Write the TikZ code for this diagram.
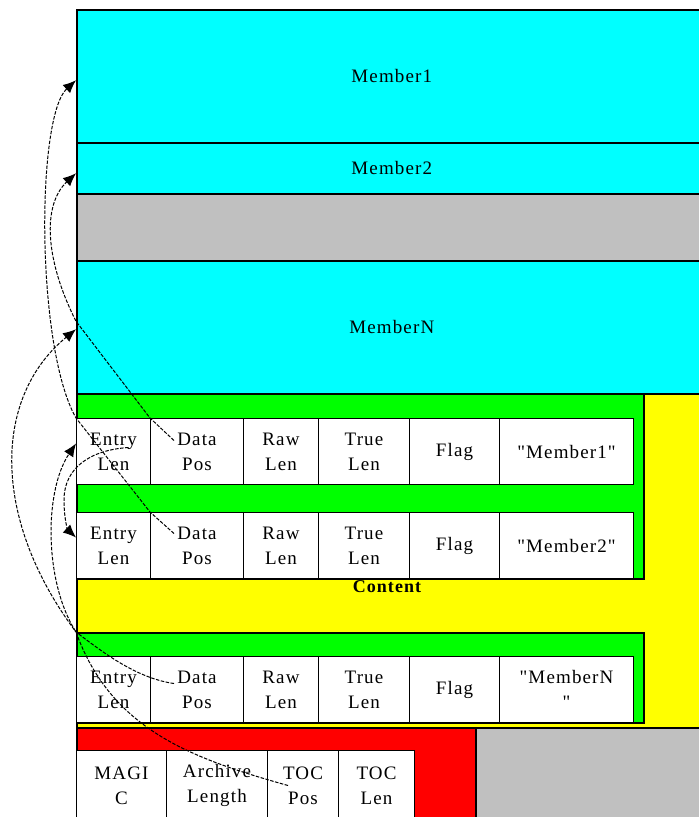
\documentclass[tikz,border=0pt]{standalone}
\usepackage{fontspec}
\setmainfont[LetterSpace=6, Ligatures=TeXOff]{Liberation Serif}
\usetikzlibrary{arrows.meta,calc}

\definecolor{memcyan}{RGB}{0,255,255}
\definecolor{tocgreen}{RGB}{0,255,0}
\definecolor{datayellow}{RGB}{255,255,0}
\definecolor{endred}{RGB}{255,0,0}
\definecolor{gapgray}{RGB}{192,192,192}

\tikzset{
  blk/.style={draw, line width=1.5pt, anchor=north west, inner sep=0pt,
    font=\fontsize{19}{25}\selectfont},
  cell/.style={draw, fill=white, line width=1pt, anchor=north west, inner sep=0pt,
    align=center, minimum height=66pt, font=\fontsize{19}{25}\selectfont},
  link/.style={dash pattern=on 3.5pt off 1.5pt, line width=1pt,
    -{Latex[length=13pt,width=11pt]}}
}

\begin{document}
\begin{tikzpicture}[x=1pt,y=-1pt]
\useasboundingbox (0,0) rectangle (699,817);
\clip (0,0) rectangle (699,817);

% members
\node[blk, fill=memcyan, minimum width=630pt, minimum height=133pt] (mem1) at (76,9) {Member1};
\node[blk, fill=memcyan, minimum width=630pt, minimum height=51pt] (mem2) at (76,142) {Member2};
\node[blk, fill=gapgray, minimum width=630pt, minimum height=67pt] (gap1) at (76,193) {};
\node[blk, fill=memcyan, minimum width=630pt, minimum height=133pt] (memN) at (76,260) {MemberN};

% content
\node[blk, fill=datayellow, minimum width=630pt, minimum height=334pt] (content) at (76,393) {};
\node[blk, fill=tocgreen, minimum width=567pt, minimum height=185pt] (toc1) at (76,393) {};
\node[blk, fill=tocgreen, minimum width=567pt, minimum height=90pt] (toc2) at (76,632) {};
\node[font=\bfseries\fontsize{18}{20}\selectfont] (contentlbl) at (387,587) {Content};

% trailer
\node[blk, fill=endred, minimum width=399pt, minimum height=95pt] (trail) at (76,727) {};
\node[blk, fill=gapgray, minimum width=230pt, minimum height=95pt] (gap2) at (475,727) {};

% entry 1
\node[cell, minimum width=74pt] (e1) at (76,418) {Entry\\Len};
\node[cell, minimum width=93pt] (d1) at (150,418) {Data\\Pos};
\node[cell, minimum width=75pt] (r1) at (243,418) {Raw\\Len};
\node[cell, minimum width=91pt] (t1) at (318,418) {True\\Len};
\node[cell, minimum width=90pt] (f1) at (409,418) {Flag};
\node[cell, minimum width=134pt] (n1) at (499,418) {"Member1"};

% entry 2
\node[cell, minimum width=74pt] (e2) at (76,512) {Entry\\Len};
\node[cell, minimum width=93pt] (d2) at (150,512) {Data\\Pos};
\node[cell, minimum width=75pt] (r2) at (243,512) {Raw\\Len};
\node[cell, minimum width=91pt] (t2) at (318,512) {True\\Len};
\node[cell, minimum width=90pt] (f2) at (409,512) {Flag};
\node[cell, minimum width=134pt] (n2) at (499,512) {"Member2"};

% entry N
\node[cell, minimum width=74pt] (e3) at (76,656) {Entry\\Len};
\node[cell, minimum width=93pt] (d3) at (150,656) {Data\\Pos};
\node[cell, minimum width=75pt] (r3) at (243,656) {Raw\\Len};
\node[cell, minimum width=91pt] (t3) at (318,656) {True\\Len};
\node[cell, minimum width=90pt] (f3) at (409,656) {Flag};
\node[cell, minimum width=134pt] (n3) at (499,656) {"MemberN\\"};

% trailer fields
\node[cell, minimum width=90pt, minimum height=70pt] (mg) at (76,750) {MAGI\\C};
\node[cell, minimum width=101pt, minimum height=70pt] (al) at (166,750) {Archive\\Length};
\node[cell, minimum width=71pt, minimum height=70pt] (tp) at (267,750) {TOC\\Pos};
\node[cell, minimum width=76pt, minimum height=70pt] (tl) at (338,750) {TOC\\Len};

% data pos -> members
\draw[link] ($(d1.center)+(-23,-11)$) -- (d1.north west) -- ($(memN.west)+(0,-6)$)
  .. controls (45,260) and (42,205) .. ($(mem2.west)+(0,5)$);
\draw[link] ($(d2.center)+(-23,-12)$) -- (d2.north west) -- (e1.north west)
  .. controls (36,348) and (36,117) .. ($(mem1.west)+(0,4)$);
\draw[link] ($(d3.center)+(-23,-6)$) .. controls (135,678) and (100,650) .. (toc2.north west)
  .. controls (-8,520) and (-8,398) .. ($(memN.west)+(0,2)$);

% entry len -> next entry
\draw[link] ($(e1.center)+(15,-4)$) .. controls (90,450) and (64,468) .. (64,500)
  .. controls (64,520) and (68,530) .. ($(e2.west)+(0,-8)$);

% toc pos -> first entry
\draw[link] ($(tp.center)+(-15,0)$) .. controls (190,758) and (111,729) .. (toc2.north west)
  .. controls (44,582) and (44,491) .. ($(e1.west)+(0,-8)$);
\end{tikzpicture}
\end{document}
